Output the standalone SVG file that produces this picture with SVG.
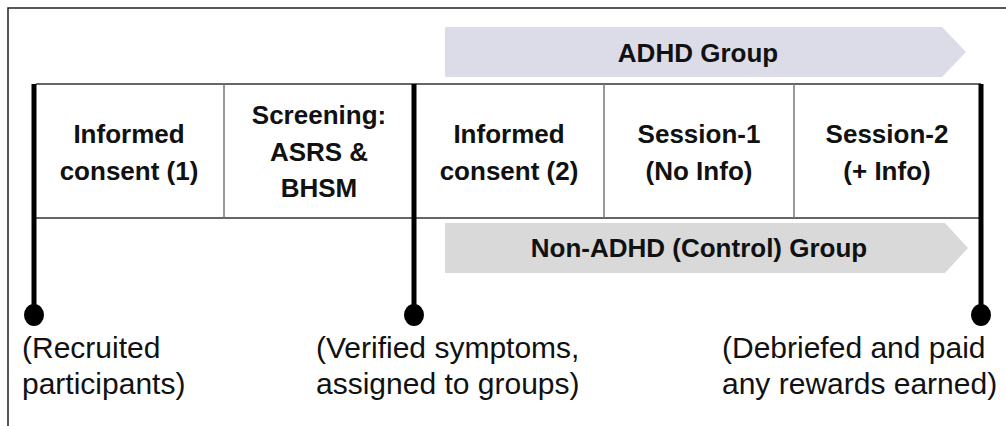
<svg xmlns="http://www.w3.org/2000/svg" width="1006" height="426" viewBox="0 0 1006 426">
<style>
.cell{font-family:"Liberation Sans",Arial,sans-serif;font-weight:bold;font-size:26px;fill:#111;text-anchor:middle}
.note{font-family:"Liberation Sans",Arial,sans-serif;font-size:30px;fill:#111}
.grid{stroke:#777;stroke-width:1.5;fill:none}
.hline{stroke:#333;stroke-width:1.5}
.thick{stroke:#000;stroke-width:5}
</style>
<rect x="8" y="8" width="1020" height="440" fill="#fff" stroke="#222" stroke-width="1.5"/>
<g id="adhd-group">
<polygon points="445,27 942,27 966,52 942,77 445,77" fill="#DCDCE8"/>
<text class="cell" x="698" y="62">ADHD Group</text>
</g>
<g id="control-group">
<polygon points="445,223 945,223 968,248 945,273 445,273" fill="#D9D9D9"/>
<text class="cell" x="699" y="257">Non-ADHD (Control) Group</text>
</g>
<g id="table">
<line class="hline" x1="36" y1="84" x2="981" y2="84"/>
<line class="hline" x1="36" y1="218" x2="981" y2="218"/>
<line class="grid" x1="224" y1="84" x2="224" y2="218"/>
<line class="grid" x1="604" y1="84" x2="604" y2="218"/>
<line class="grid" x1="794" y1="84" x2="794" y2="218"/>
</g>
<g id="cell-consent1">
<text class="cell" x="129" y="143">Informed</text>
<text class="cell" x="129" y="180">consent (1)</text>
</g>
<g id="cell-screening">
<text class="cell" x="319" y="124">Screening:</text>
<text class="cell" x="319" y="161">ASRS &amp;</text>
<text class="cell" x="319" y="197">BHSM</text>
</g>
<g id="cell-consent2">
<text class="cell" x="509" y="143">Informed</text>
<text class="cell" x="509" y="180">consent (2)</text>
</g>
<g id="cell-session1">
<text class="cell" x="699" y="143">Session-1</text>
<text class="cell" x="699" y="180">(No Info)</text>
</g>
<g id="cell-session2">
<text class="cell" x="887" y="143">Session-2</text>
<text class="cell" x="887" y="180">(+ Info)</text>
</g>
<g id="connectors">
<line class="thick" x1="34" y1="84" x2="34" y2="312"/>
<line class="thick" x1="414" y1="84" x2="414" y2="312"/>
<line class="thick" x1="981" y1="84" x2="981" y2="312"/>
</g>
<g id="milestone-recruited">
<ellipse cx="34" cy="315" rx="10" ry="11" fill="#000"/>
<text class="note" x="22" y="358">(Recruited</text>
<text class="note" x="22" y="394">participants)</text>
</g>
<g id="milestone-verified">
<ellipse cx="414" cy="315" rx="10" ry="11" fill="#000"/>
<text class="note" x="316" y="358">(Verified symptoms,</text>
<text class="note" x="316" y="394">assigned to groups)</text>
</g>
<g id="milestone-debriefed">
<ellipse cx="981" cy="315" rx="10" ry="11" fill="#000"/>
<text class="note" x="722" y="358">(Debriefed and paid</text>
<text class="note" x="722" y="394">any rewards earned)</text>
</g>
</svg>
